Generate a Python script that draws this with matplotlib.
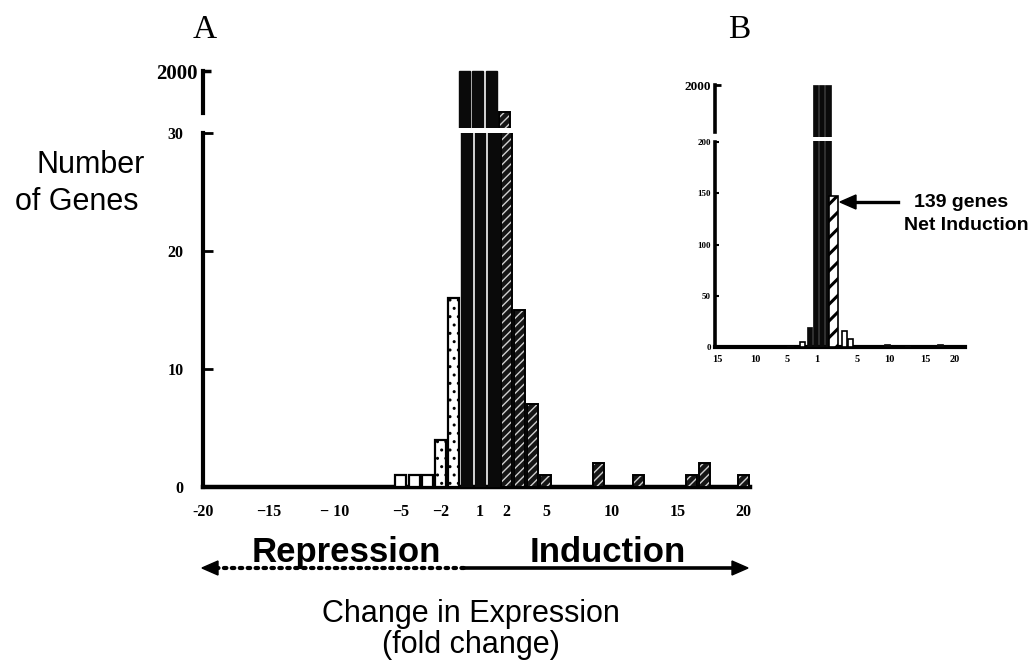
import matplotlib
matplotlib.use('Agg')
import matplotlib.pyplot as plt
from matplotlib.patches import Polygon

W, H = 1034, 660

# ---------------- data: panel A (fold-change bins, gene counts) ----------------
main_bins = [str(v) for v in range(-20, -1)] + ['-1.5', '-1', '1', '1.5'] + [str(v) for v in range(2, 21)]
open_bins = ['-5', '-4', '-3']
open_counts = [1, 1, 1]
dotted_bins = ['-2', '-1.5']
dotted_counts = [4, 16]
core_bins = ['-1', '1', '1.5']
core_counts = [2000, 2000, 2000]
ind_bins = ['2', '3', '4', '5', '9', '12', '16', '17', '20']
ind_counts = [580, 15, 7, 1, 2, 1, 1, 2, 1]
main_tick_bins = ['-20', '-15', '-10', '-5', '-2', '1', '2', '5', '10', '15', '20']
main_tick_labels = ['-20', '\u221215', '\u2212 10', '\u22125', '\u22122', '1', '2', '5', '10', '15', '20']

# ---------------- data: panel B ----------------
inset_black_x = [-4.3, -1.4, -0.5, 0.4, 1.3, 10.0, 13.0, 17.8]
inset_black_counts = [1, 20, 2000, 2000, 2000, 3, 1, 3]
inset_open_x = [-2.4, 3.75, 4.6]
inset_open_counts = [5, 16, 8]
inset_hatch_x = [2.15]
inset_hatch_counts = [147]
inset_tick_pos = [-15, -9.4, -4.7, -0.3, 5.6, 10.4, 15.6, 20]
inset_tick_labels = ['15', '10', '5', '1', '5', '10', '15', '20']

SERIF = ['Liberation Serif', 'DejaVu Serif']
SANS = ['Liberation Sans', 'DejaVu Sans']
plt.rcParams['hatch.linewidth'] = 1.0

fig = plt.figure(figsize=(W / 100, H / 100), dpi=100)


def px_axes(x0, y0, x1, y1):
    return fig.add_axes([x0 / W, 1 - y1 / H, (x1 - x0) / W, (y1 - y0) / H])


def idx(b):
    return [main_bins.index(v) for v in b]


def above(xs, ys, lo):
    pairs = [(x, y) for x, y in zip(xs, ys) if y > lo]
    return [p[0] for p in pairs], [p[1] for p in pairs]


# ---------------- panel A ----------------
axA = px_axes(203, 133, 750, 487)
axAu = px_axes(203, 69, 750, 128)
bw = 0.83
for ax, lo in ((axA, -1), (axAu, 30)):
    x, y = above(idx(open_bins), open_counts, lo)
    ax.bar(x, y, bw, facecolor='white', edgecolor='black', linewidth=1.6, zorder=3)
    x, y = above(idx(dotted_bins), dotted_counts, lo)
    ax.bar(x, y, bw, facecolor='white', edgecolor='black', hatch='..', linewidth=1.6, zorder=3)
    x, y = above(idx(core_bins), core_counts, lo)
    ax.bar(x, y, bw, facecolor='#0a0a0a', edgecolor='#0a0a0a', linewidth=1, zorder=3)
    x, y = above(idx(ind_bins), ind_counts, lo)
    ax.bar(x, y, bw, facecolor='#151515', edgecolor='#cfcfcf', hatch='////', linewidth=0, zorder=3)
    ax.bar(x, y, bw, fill=False, edgecolor='black', linewidth=1.4, zorder=4)
    ax.set_xlim(0.34, 41.47)
    for s in ('top', 'right'):
        ax.spines[s].set_visible(False)
    ax.spines['left'].set_linewidth(3)
    ax.patch.set_alpha(0)

axA.set_ylim(0, 30)
axA.spines['bottom'].set_linewidth(3.2)
axA.spines['left'].set_bounds(0, 30)
axA.set_yticks([0, 10, 20, 30])
axA.set_yticklabels(['0', '10', '20', '30'], fontfamily=SERIF, fontweight='bold', fontsize=11.5)
axA.tick_params(axis='y', direction='in', length=7, width=2, pad=14)
axA.set_xticks(idx(main_tick_bins))
axA.set_xticklabels(main_tick_labels, fontfamily=SERIF, fontweight='bold', fontsize=11.5)
axA.tick_params(axis='x', length=0, pad=12)

axAu.set_ylim(30, 2080)
axAu.spines['bottom'].set_visible(False)
axAu.spines['left'].set_bounds(551, 2000)
axAu.set_xticks([])
axAu.set_yticks([2000])
axAu.set_yticklabels(['2000'], fontfamily=SERIF, fontweight='bold', fontsize=15)
axAu.tick_params(axis='y', direction='in', length=6, width=2.5, pad=4)

# ---------------- panel B ----------------
axB = px_axes(715, 141, 965, 347)
axBu = px_axes(715, 84, 965, 137)
for ax, lo in ((axB, -1), (axBu, 201)):
    x, y = above(inset_black_x, inset_black_counts, lo)
    ax.bar(x, y, 0.82, facecolor='#0a0a0a', edgecolor='#0a0a0a', linewidth=0.5, zorder=3)
    x, y = above(inset_open_x, inset_open_counts, lo)
    ax.bar(x, y, 0.75, facecolor='white', edgecolor='black', linewidth=1.2, zorder=3)
    x, y = above(inset_hatch_x, inset_hatch_counts, lo)
    with plt.rc_context({'hatch.linewidth': 2.2}):
        ax.bar(x, y, 1.3, facecolor='white', edgecolor='black', hatch='//', linewidth=1.2, zorder=3)
    ax.set_xlim(-15.29, 21.47)
    for s in ('top', 'right'):
        ax.spines[s].set_visible(False)
    ax.spines['left'].set_linewidth(2.6)
    ax.patch.set_alpha(0)

axB.set_ylim(0, 201)
axB.spines['bottom'].set_linewidth(3)
axB.spines['left'].set_bounds(0, 200)
axB.set_yticks([0, 50, 100, 150, 200])
axB.set_yticklabels(['0', '50', '100', '150', '200'], fontfamily=SERIF, fontweight='bold', fontsize=6.5)
axB.tick_params(axis='y', direction='in', length=3, width=1.5, pad=3)
axB.set_xticks(inset_tick_pos)
axB.set_xticklabels(inset_tick_labels, fontfamily=SERIF, fontweight='bold', fontsize=7.5)
axB.tick_params(axis='x', length=0, pad=6)

axBu.set_ylim(201, 2050)
axBu.spines['bottom'].set_visible(False)
axBu.spines['left'].set_bounds(375, 2000)
axBu.set_xticks([])
axBu.set_yticks([2000])
axBu.set_yticklabels(['2000'], fontfamily=SERIF, fontweight='bold', fontsize=9.5)
axBu.tick_params(axis='y', direction='in', length=4, width=2, pad=3)

# ---------------- overlay (annotations in pixel space) ----------------
ov = fig.add_axes([0, 0, 1, 1], zorder=10)
ov.set_xlim(0, W)
ov.set_ylim(H, 0)
ov.axis('off')
ov.patch.set_alpha(0)

ov.text(205, 38, 'A', fontfamily=SERIF, fontsize=24, ha='center', va='baseline')
ov.text(739, 38, 'B', fontfamily=SERIF, fontsize=24, ha='center', va='baseline')
ov.text(90.5, 173, 'Number', fontfamily=SANS, fontsize=22, ha='center', va='baseline')
ov.text(77, 210, 'of Genes', fontfamily=SANS, fontsize=22, ha='center', va='baseline')
ov.text(252, 562, 'Repression', fontfamily=SANS, fontweight='bold', fontsize=25, ha='left', va='baseline')
ov.text(608, 562, 'Induction', fontfamily=SANS, fontweight='bold', fontsize=25, ha='center', va='baseline')
ov.text(471, 622, 'Change in Expression', fontfamily=SANS, fontsize=22, ha='center', va='baseline')
ov.text(471, 653, '(fold change)', fontfamily=SANS, fontsize=22, ha='center', va='baseline')
ov.text(961, 207, '139 genes', fontfamily=SANS, fontweight='bold', fontsize=14, ha='center', va='baseline')
ov.text(966, 230, 'Net Induction', fontfamily=SANS, fontweight='bold', fontsize=14, ha='center', va='baseline')

# double arrow: dotted (repression) / solid (induction)
ay = 568
ov.plot([216, 466], [ay, ay], color='black', lw=3, linestyle=(0, (0.6, 1.3)), dash_capstyle='round', solid_capstyle='round')
ov.plot([466, 734], [ay, ay], color='black', lw=2.6)
ov.add_patch(Polygon([[202, ay], [218, ay - 7], [218, ay + 7]], closed=True, color='black'))
ov.add_patch(Polygon([[748, ay], [732, ay - 7], [732, ay + 7]], closed=True, color='black'))

# inset arrow
ov.plot([852, 898], [202, 202], color='black', lw=2.4)
ov.add_patch(Polygon([[840, 202], [856, 195], [856, 209]], closed=True, color='black'))

fig.savefig('out.png', dpi=100)
